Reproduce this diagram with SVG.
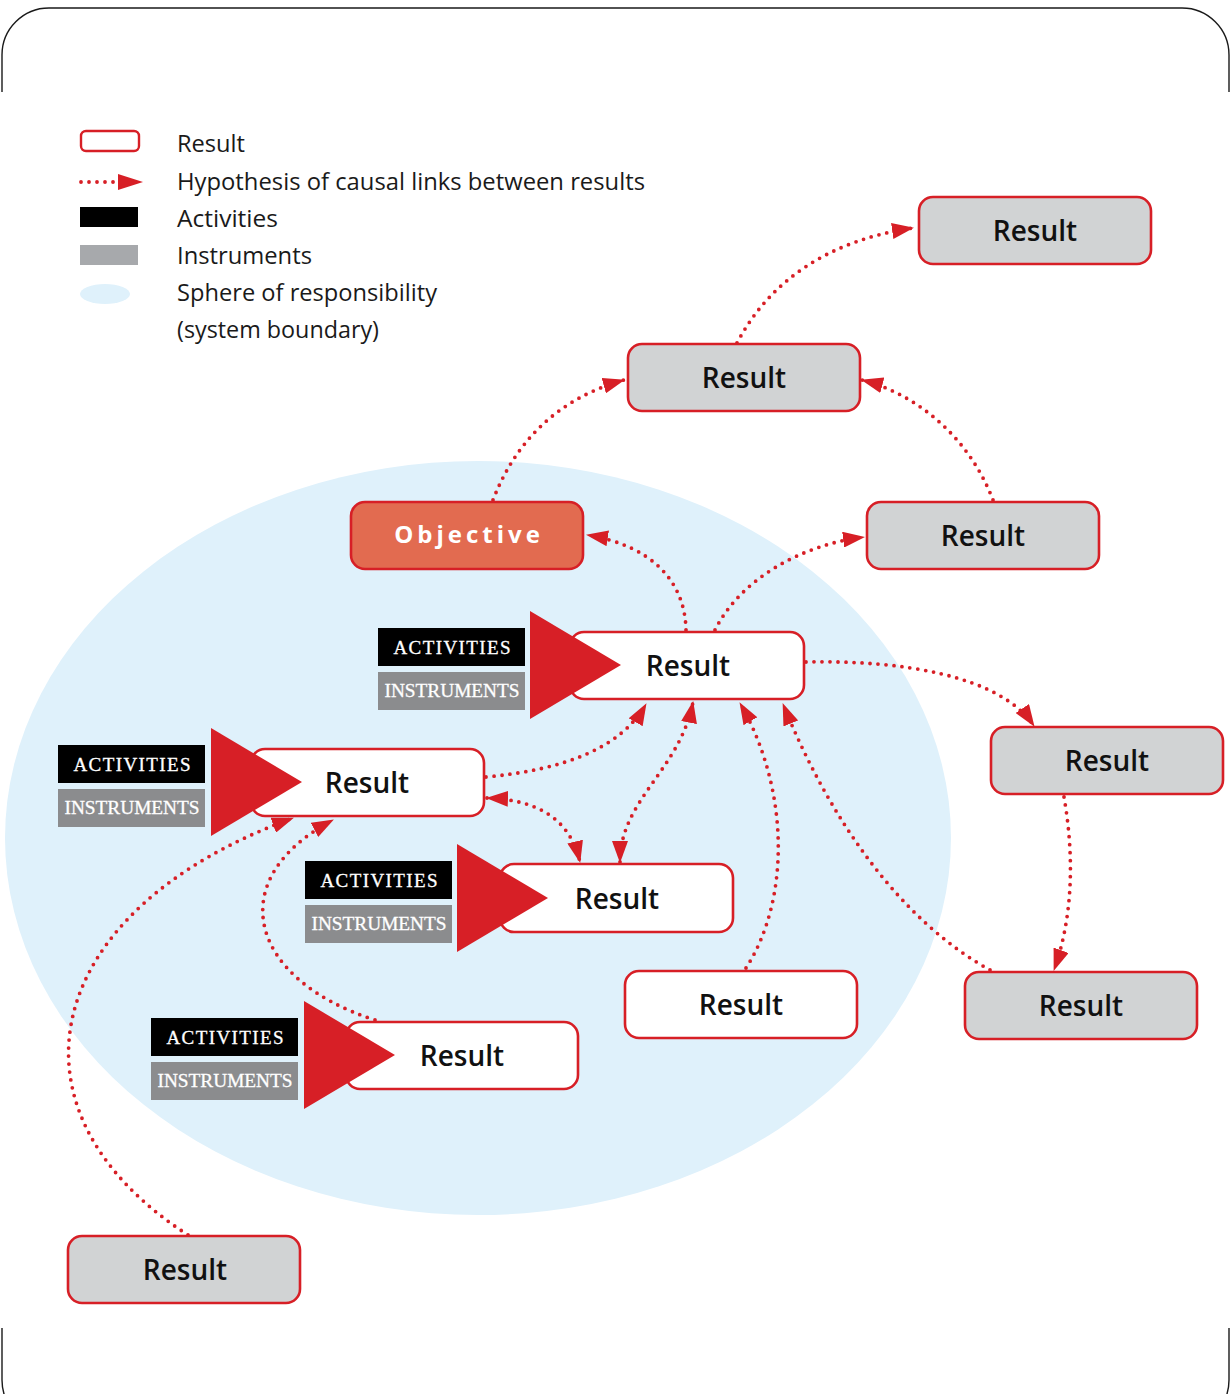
<svg xmlns="http://www.w3.org/2000/svg" width="1231" height="1394" viewBox="0 0 1231 1394">
<style>
.frame{fill:none;stroke:#1a1a1a;stroke-width:1.4}
.res{stroke:#d71f26;stroke-width:2.6}
.gray{fill:#d1d3d4}
.white{fill:#ffffff}
.obj{fill:#e26b50}
.rt{font-family:"Open Sans","Noto Sans",sans-serif;font-size:28px;font-weight:600;fill:#111;text-anchor:middle}
.ot{font-family:"Open Sans","Noto Sans",sans-serif;font-size:24px;font-weight:700;fill:#fff;text-anchor:middle;letter-spacing:4px}
.lt{font-family:"Open Sans","Noto Sans",sans-serif;font-size:24px;fill:#1a1a1a}
.act{fill:#000}
.ins{fill:#8b8c8e}
.at{font-family:"Liberation Serif","Times New Roman",serif;font-size:19px;font-weight:400;fill:#fff;text-anchor:middle;stroke:#fff;stroke-width:0.3}
.it{font-family:"Liberation Serif","Times New Roman",serif;font-size:19.5px;font-weight:400;fill:#fff;text-anchor:middle;stroke:#fff;stroke-width:0.3}
.tri{fill:#d71f26}
.link{fill:none;stroke:#d71f26;stroke-width:3.8;stroke-linecap:round;stroke-dasharray:0 8}
</style>
<defs>
<marker id="ah" viewBox="0 0 22 16" refX="21" refY="8" markerWidth="22" markerHeight="16" markerUnits="userSpaceOnUse" orient="auto-start-reverse">
<path d="M0,0 L22,8 L0,16 Z" fill="#d71f26"/>
</marker>
</defs>
<rect x="0" y="0" width="1231" height="1394" fill="#ffffff"/>
<g id="frame">
<path class="frame" d="M2,92 V55 A47,47 0 0 1 49,8 H1182 A47,47 0 0 1 1229,55 V92"/>
<path class="frame" d="M2,1328 V1380 A47,47 0 0 0 49,1427 H1182 A47,47 0 0 0 1229,1380 V1328"/>
</g>
<g id="sphere">
<ellipse cx="478" cy="838" rx="473" ry="377" fill="#dff1fb"/>
</g>
<g id="legend">
<rect x="81" y="131" width="58" height="20" rx="5" fill="#fff" stroke="#d71f26" stroke-width="2.4"/>
<path d="M81,182 H115" class="link" stroke-dasharray="0 7" stroke-width="3.4"/>
<path d="M118,174 L143,182 L118,190 Z" fill="#d71f26"/>
<rect x="80" y="207" width="58" height="20" fill="#000"/>
<rect x="80" y="245" width="58" height="20" fill="#a7a9ac"/>
<ellipse cx="105" cy="294" rx="25" ry="10" fill="#dff1fb"/>
<text class="lt" x="177" y="152" textLength="68" lengthAdjust="spacingAndGlyphs">Result</text>
<text class="lt" x="177" y="190" textLength="468" lengthAdjust="spacingAndGlyphs">Hypothesis of causal links between results</text>
<text class="lt" x="177" y="227" textLength="101" lengthAdjust="spacingAndGlyphs">Activities</text>
<text class="lt" x="177" y="264" textLength="135" lengthAdjust="spacingAndGlyphs">Instruments</text>
<text class="lt" x="177" y="301" textLength="260" lengthAdjust="spacingAndGlyphs">Sphere of responsibility</text>
<text class="lt" x="177" y="338" textLength="202" lengthAdjust="spacingAndGlyphs">(system boundary)</text>
</g>
<g id="connectors">
<path class="link" marker-end="url(#ah)" d="M737,343 C770,280 830,240 913,228"/>
<path class="link" marker-end="url(#ah)" d="M493,500 C520,430 570,395 624,380"/>
<path class="link" marker-end="url(#ah)" d="M993,500 C970,440 920,395 862,380"/>
<path class="link" marker-end="url(#ah)" d="M686,630 C685,580 650,545 587,535"/>
<path class="link" marker-end="url(#ah)" d="M715,630 C740,580 800,545 864,537"/>
<path class="link" marker-end="url(#ah)" d="M806,662 C900,660 1000,675 1034,726"/>
<path class="link" marker-end="url(#ah)" d="M1064,797 C1075,860 1072,920 1054,970"/>
<path class="link" marker-end="url(#ah)" d="M990,970 C900,920 830,820 783,704"/>
<path class="link" marker-end="url(#ah)" d="M746,968 C790,900 790,790 740,703"/>
<path class="link" marker-start="url(#ah)" marker-end="url(#ah)" d="M620,862 C620,800 680,770 693,702"/>
<path class="link" marker-end="url(#ah)" d="M486,777 C560,770 620,750 646,704"/>
<path class="link" marker-start="url(#ah)" marker-end="url(#ah)" d="M487,798 C540,800 570,820 580,862"/>
<path class="link" marker-end="url(#ah)" d="M375,1020 C250,980 220,880 333,820"/>
<path class="link" marker-end="url(#ah)" d="M188,1235 C-5,1110 40,910 293,818"/>
</g>
<g id="result-top">
<rect class="res gray" x="919" y="197" width="232" height="67" rx="14"/>
<text class="rt" x="1035" y="241">Result</text>
</g>
<g id="result-2">
<rect class="res gray" x="628" y="344" width="232" height="67" rx="14"/>
<text class="rt" x="744" y="388">Result</text>
</g>
<g id="objective">
<rect class="res obj" x="351" y="502" width="232" height="67" rx="14"/>
<text class="ot" x="469" y="543">Objective</text>
</g>
<g id="result-3">
<rect class="res gray" x="867" y="502" width="232" height="67" rx="14"/>
<text class="rt" x="983" y="546">Result</text>
</g>
<g id="result-main">
<rect class="res white" x="570" y="632" width="234" height="67" rx="14"/>
<text class="rt" x="688" y="676">Result</text>
<rect class="act" x="378" y="628" width="147" height="38"/>
<text class="at" x="452" y="654" textLength="117" lengthAdjust="spacing">ACTIVITIES</text>
<rect class="ins" x="378" y="672" width="147" height="38"/>
<text class="it" x="452" y="697" textLength="135" lengthAdjust="spacingAndGlyphs">INSTRUMENTS</text>
<path class="tri" d="M530,611 L621,665 L530,719 Z"/>
</g>
<g id="result-right">
<rect class="res gray" x="991" y="727" width="232" height="67" rx="14"/>
<text class="rt" x="1107" y="771">Result</text>
</g>
<g id="result-left">
<rect class="res white" x="251" y="749" width="233" height="67" rx="14"/>
<text class="rt" x="367" y="793">Result</text>
<rect class="act" x="58" y="745" width="147" height="38"/>
<text class="at" x="132" y="771" textLength="117" lengthAdjust="spacing">ACTIVITIES</text>
<rect class="ins" x="58" y="789" width="147" height="38"/>
<text class="it" x="132" y="814" textLength="135" lengthAdjust="spacingAndGlyphs">INSTRUMENTS</text>
<path class="tri" d="M211,728 L302,782 L211,836 Z"/>
</g>
<g id="result-middle">
<rect class="res white" x="500" y="864" width="233" height="68" rx="14"/>
<text class="rt" x="617" y="909">Result</text>
<rect class="act" x="305" y="861" width="147" height="38"/>
<text class="at" x="379" y="887" textLength="117" lengthAdjust="spacing">ACTIVITIES</text>
<rect class="ins" x="305" y="905" width="147" height="38"/>
<text class="it" x="379" y="930" textLength="135" lengthAdjust="spacingAndGlyphs">INSTRUMENTS</text>
<path class="tri" d="M457,844 L548,898 L457,952 Z"/>
</g>
<g id="result-bottom-mid">
<rect class="res white" x="625" y="971" width="232" height="67" rx="14"/>
<text class="rt" x="741" y="1015">Result</text>
</g>
<g id="result-right-low">
<rect class="res gray" x="965" y="972" width="232" height="67" rx="14"/>
<text class="rt" x="1081" y="1016">Result</text>
</g>
<g id="result-lower-left">
<rect class="res white" x="346" y="1022" width="232" height="67" rx="14"/>
<text class="rt" x="462" y="1066">Result</text>
<rect class="act" x="151" y="1018" width="147" height="38"/>
<text class="at" x="225" y="1044" textLength="117" lengthAdjust="spacing">ACTIVITIES</text>
<rect class="ins" x="151" y="1062" width="147" height="38"/>
<text class="it" x="225" y="1087" textLength="135" lengthAdjust="spacingAndGlyphs">INSTRUMENTS</text>
<path class="tri" d="M304,1001 L395,1055 L304,1109 Z"/>
</g>
<g id="result-bottom">
<rect class="res gray" x="68" y="1236" width="232" height="67" rx="14"/>
<text class="rt" x="185" y="1280">Result</text>
</g>
</svg>
